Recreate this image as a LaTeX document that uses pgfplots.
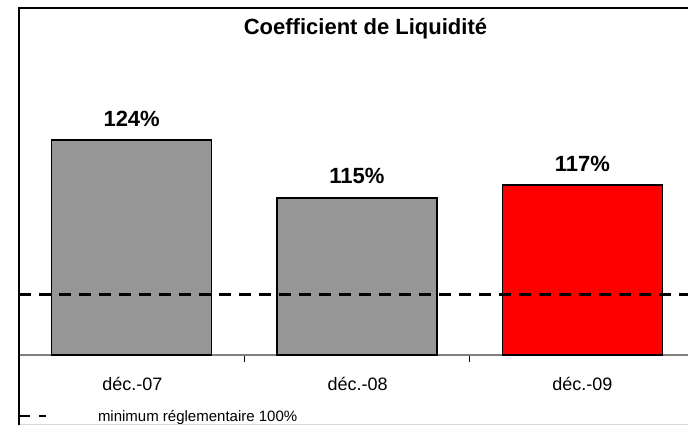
\documentclass[border=0pt]{standalone}
\usepackage{pgfplots}
\pgfplotsset{compat=1.18}
\usepackage{fontspec}
\setmainfont{Liberation Sans}
\definecolor{bargray}{RGB}{150,150,150}
\definecolor{axgray}{RGB}{128,128,128}
\begin{document}
\begin{tikzpicture}
\useasboundingbox (0,0) rectangle (516pt,318.75pt);
\begin{axis}[
  at={(14.25pt,52.5pt)}, anchor=south west,
  scale only axis, width=507pt, height=260.25pt,
  xmin=-0.5, xmax=2.5, ymin=90.5, ymax=144.6,
  axis x line=bottom, axis y line=none,
  x axis line style={axgray, line width=1.5pt, -},
  xtick={0.5,1.5}, xticklabels={},
  major tick length=5.25pt, tick align=outside,
  x tick style={black, line width=0.9pt},
  ytick=\empty,
  clip=false,
  /pgf/number format/assume math mode=true,
  ybar, bar width=120pt,
  nodes near coords={\pgfmathprintnumber{\pgfplotspointmeta}\%},
  every node near coord/.append style={anchor=base, yshift=10.5pt, font=\fontsize{16.5pt}{18pt}\selectfont\bfseries, black},
]
\addplot[fill=bargray, draw=black, line width=1pt, bar shift=0pt] coordinates {(0,124) (1,115)};
\addplot[fill=red, draw=black, line width=1pt, bar shift=0pt] coordinates {(2,117)};
\addplot[sharp plot, nodes near coords={}, black, line width=2.2pt, dash pattern=on 9pt off 6pt] coordinates {(-0.5,100) (2.5,100)};
\end{axis}
% category labels
\node[anchor=base, font=\fontsize{13.5pt}{16pt}\selectfont] at (99.3pt,26.25pt) {déc.-07};
\node[anchor=base, font=\fontsize{13.5pt}{16pt}\selectfont] at (268.3pt,26.25pt) {déc.-08};
\node[anchor=base, font=\fontsize{13.5pt}{16pt}\selectfont] at (436.8pt,26.25pt) {déc.-09};
% title
\node[anchor=base, font=\fontsize{16.5pt}{19pt}\selectfont\bfseries] at (274.1pt,292.5pt) {Coefficient de Liquidité};
% legend
\draw[black, line width=2.2pt, dash pattern=on 8.5pt off 6.5pt] (14.25pt,6.75pt) -- (34.5pt,6.75pt);
\node[anchor=base west, inner sep=0pt, font=\fontsize{11.25pt}{13pt}\selectfont] at (73.3pt,3pt) {minimum réglementaire 100\%};
% frame
\draw[black!15, line width=0.6pt] (14.25pt,0.5pt) -- (516pt,0.5pt);
\draw[black, line width=1pt] (14.25pt,0pt) -- (14.25pt,312.75pt) -- (516pt,312.75pt);
\end{tikzpicture}
\end{document}
